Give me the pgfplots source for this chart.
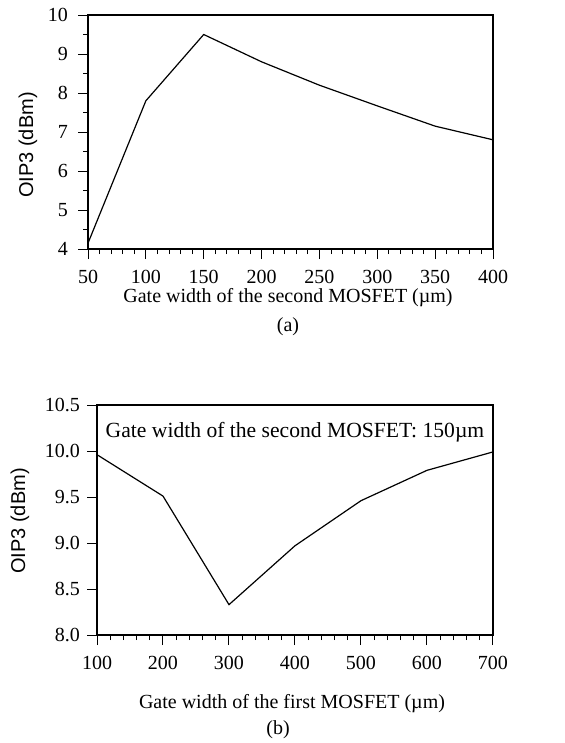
\documentclass[border=0pt]{standalone}
\usepackage{fontspec}
\setmainfont{Liberation Serif}
\newfontfamily\arialfont{Liberation Sans}
\usepackage{pgfplots}
\pgfplotsset{compat=1.18}

\pgfplotsset{oipthree/.style={
    scale only axis,
    axis line style={line width=0.6pt},
    tick align=outside,
    xtick pos=bottom, ytick pos=left,
    major tick length=5pt, minor tick length=2.5pt,
    every tick/.style={black, line width=0.5pt},
    tick label style={font=\fontsize{10}{12}\selectfont},
    xticklabel style={yshift=-2pt},
    /pgf/number format/assume math mode=true,
    clip=false,
}}

\begin{document}
\begin{tikzpicture}
\useasboundingbox (0,0) rectangle (282.5pt,-371.5pt);

% (a) sweep of the second transistor
\begin{axis}[oipthree,
    at={(44pt,-124.5pt)}, anchor=south west,
    width=202.5pt, height=117pt,
    xmin=50, xmax=400, ymin=4, ymax=10,
    xtick={50,100,...,400}, minor x tick num=4,
    ytick={4,5,...,10}, minor y tick num=1,
    yticklabel style={xshift=-1.5pt},
]
\addplot[black, line width=0.6pt] coordinates {
    (50,4.15) (100,7.8) (150,9.5) (200,8.8) (250,8.2)
    (300,7.67) (350,7.15) (400,6.8)
};
\end{axis}
\node[font=\fontsize{10}{12}\selectfont] at (144pt,-149pt) {Gate width of the second MOSFET (µm)};
\node[font=\fontsize{10}{12}\selectfont] at (144pt,-163.5pt) {(a)};
\node[font=\arialfont\fontsize{10}{12}\selectfont, rotate=90] at (14pt,-72.5pt) {OIP3 (dBm)};

% (b) sweep of the first transistor
\begin{axis}[oipthree,
    at={(48.5pt,-317.5pt)}, anchor=south west,
    width=198pt, height=115pt,
    xmin=100, xmax=700, ymin=8, ymax=10.5,
    xtick={100,200,...,700}, minor x tick num=4,
    ytick={8,8.5,...,10.5},
    yticklabel style={/pgf/number format/.cd, fixed, fixed zerofill, precision=1},
]
\addplot[black, line width=0.6pt] coordinates {
    (100,9.96) (200,9.51) (300,8.33) (400,8.97) (500,9.46)
    (600,9.79) (700,9.99)
};
\node[font=\fontsize{10.8}{13}\selectfont] at (axis description cs:0.5,0.88)
    {Gate width of the second MOSFET: 150µm};
\end{axis}
\node[font=\fontsize{10}{12}\selectfont] at (146pt,-352pt) {Gate width of the first MOSFET (µm)};
\node[font=\fontsize{10}{12}\selectfont] at (139pt,-365pt) {(b)};
\node[font=\arialfont\fontsize{10}{12}\selectfont, rotate=90] at (10pt,-260.5pt) {OIP3 (dBm)};
\end{tikzpicture}
\end{document}
